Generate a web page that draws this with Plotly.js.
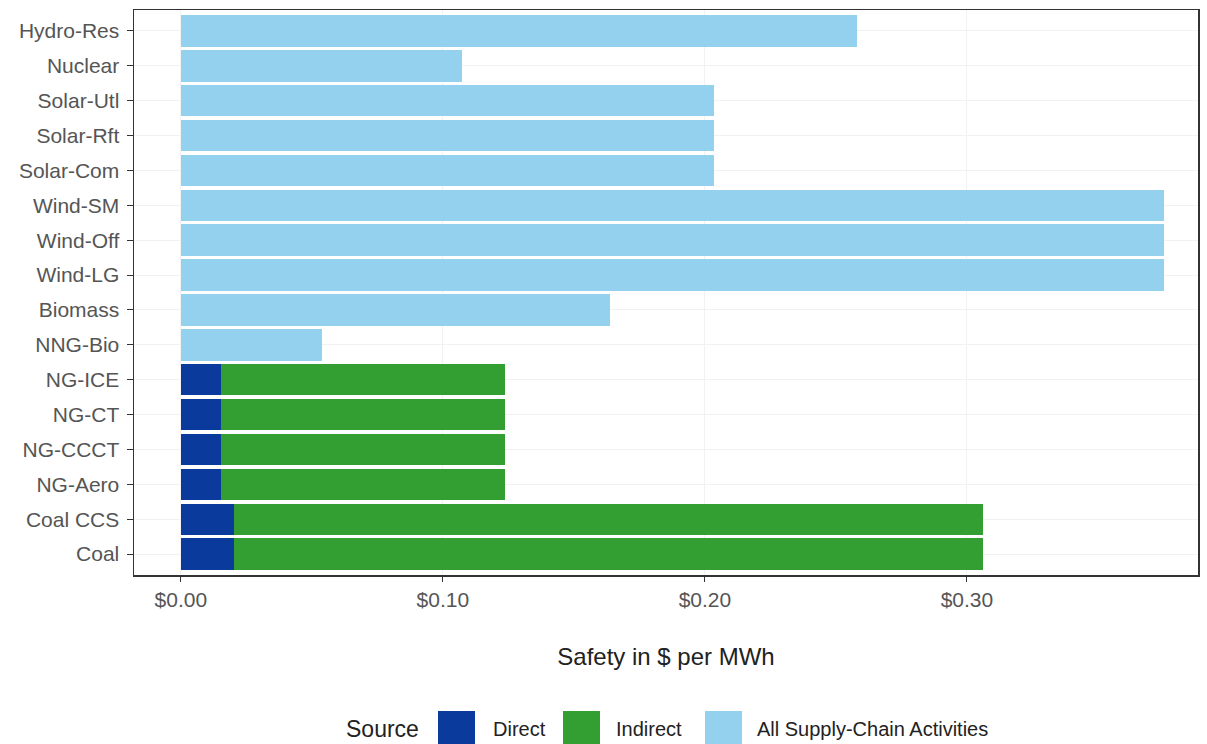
<!DOCTYPE html>
<html>
<head>
<meta charset="utf-8">
<script src="https://cdn.plot.ly/plotly-3.0.1.min.js"></script>
<style>html,body{margin:0;padding:0;background:#fff;}#chart{width:1207px;height:744px;}</style>
</head>
<body>
<div id="chart"></div>
<script>
const categories = ["Hydro-Res","Nuclear","Solar-Utl","Solar-Rft","Solar-Com","Wind-SM","Wind-Off","Wind-LG","Biomass","NNG-Bio","NG-ICE","NG-CT","NG-CCCT","NG-Aero","Coal CCS","Coal"];
const directValues   = [null,null,null,null,null,null,null,null,null,null,0.0153,0.0153,0.0153,0.0153,0.0202,0.0202];
const indirectValues = [null,null,null,null,null,null,null,null,null,null,0.1084,0.1084,0.1084,0.1084,0.2858,0.2858];
const supplyValues   = [0.258,0.1073,0.2035,0.2035,0.2035,0.3752,0.3752,0.3752,0.1638,0.0538,null,null,null,null,null,null];
const seriesNames = ["Direct","Indirect","All Supply-Chain Activities"];
const seriesColors = ["#0a3a9c","#339e32","#94d1ee"];
const xTickVals = [0, 0.1, 0.2, 0.3];
const xTickText = ["$0.00","$0.10","$0.20","$0.30"];

const font = "Liberation Sans, Arial, sans-serif";
const W = 1207, H = 744;
const M = {l:134, r:9, t:10, b:169};
const plotW = W - M.l - M.r, plotH = H - M.t - M.b;
const px2x = p => (p - M.l) / plotW;
const px2y = p => (H - M.b - p) / plotH;

const seriesValues = [directValues, indirectValues, supplyValues];
const traces = seriesNames.map((n, i) => ({
  type:"bar", orientation:"h", name:n, y:categories, x:seriesValues[i],
  marker:{color:seriesColors[i], line:{width:0}}, showlegend:false
}));

// custom legend (large square keys like the original)
const keyLeft = [438, 563, 705];
const textLeft = [491, 614, 755];
const keySize = 37, keyTop = 711, legendMid = 729;
const shapes = [];
const annotations = [{
  xref:"paper", yref:"paper", x:px2x(421), y:px2y(legendMid), xanchor:"right", yanchor:"middle",
  text:"Source", showarrow:false, font:{family:font, size:23, color:"#222"}
}];
seriesNames.forEach((n, i) => {
  shapes.push({type:"rect", xref:"paper", yref:"paper", layer:"above",
    x0:px2x(keyLeft[i]), x1:px2x(keyLeft[i] + keySize), y0:px2y(keyTop), y1:px2y(keyTop + keySize),
    fillcolor:seriesColors[i], line:{width:0}});
  annotations.push({xref:"paper", yref:"paper", x:px2x(textLeft[i]), y:px2y(legendMid), xanchor:"left", yanchor:"middle",
    text:n, showarrow:false, font:{family:font, size:20, color:"#222"}});
});

const layout = {
  width:W, height:H,
  margin:M,
  paper_bgcolor:"#fff", plot_bgcolor:"#fff",
  barmode:"stack", bargap:0.1,
  font:{family:font, color:"#4d4d4d"},
  showlegend:false,
  xaxis:{
    range:[-0.0179, 0.3882], tickvals:xTickVals, ticktext:xTickText,
    ticks:"outside", ticklen:5, tickcolor:"#333", tickfont:{size:21, color:"#555"},
    showgrid:true, gridcolor:"#f2f2f2", zeroline:false,
    showline:true, linecolor:"#333", linewidth:1.5, mirror:true,
    title:{text:"Safety in $ per MWh", font:{size:24, color:"#222"}, standoff:38}
  },
  yaxis:{
    type:"category", categoryorder:"array", categoryarray:categories.slice().reverse(),
    range:[-0.6, 15.6],
    ticks:"outside", ticklen:6, tickcolor:"#333", tickfont:{size:21, color:"#555"},
    ticklabelstandoff:3,
    showgrid:true, gridcolor:"#f2f2f2", zeroline:false,
    showline:true, linecolor:"#333", linewidth:1.5, mirror:true
  },
  shapes:shapes,
  annotations:annotations
};
Plotly.newPlot("chart", traces, layout, {displayModeBar:false, staticPlot:true});
</script>
</body>
</html>
